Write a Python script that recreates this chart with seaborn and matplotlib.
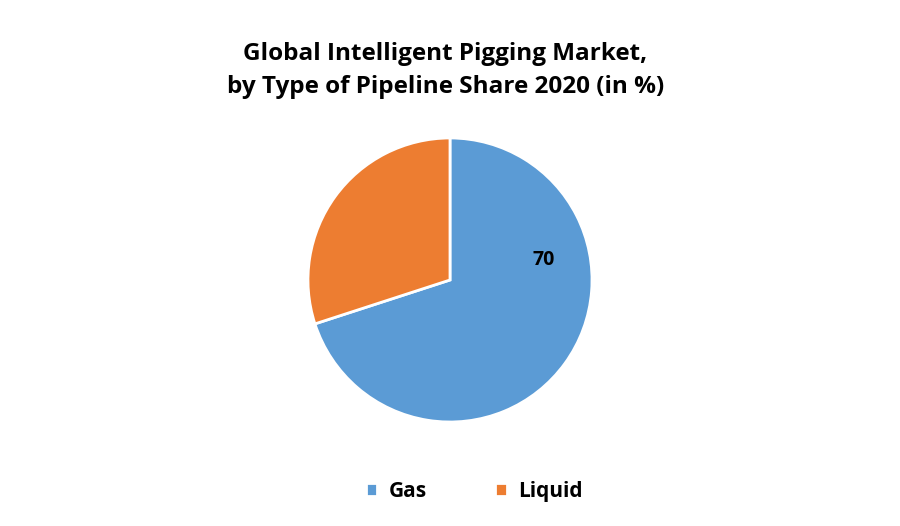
import matplotlib
matplotlib.use('Agg')
import matplotlib.pyplot as plt
import seaborn as sns

# data
categories = ['Gas', 'Liquid']
shares = [70, 30]
colors = ['#5B9BD5', '#ED7D31']
shown_labels = ['70', '']

sns.set_theme(style='white')
plt.rcParams['font.family'] = ['Open Sans', 'DejaVu Sans']
plt.rcParams['text.color'] = 'black'

fig = plt.figure(figsize=(9, 5.26), dpi=100)
fig.patch.set_facecolor('white')

# pie axes, centered where the reference pie sits
ax = fig.add_axes([0.3422, 0.1977, 0.3156, 0.540])
wedges, _ = ax.pie(shares, colors=colors, startangle=90, counterclock=False,
                   wedgeprops=dict(edgecolor='white', linewidth=2))
ax.set_xlim(-1, 1)
ax.set_ylim(-1, 1)
ax.set_aspect('equal')

# value label (only gas is labelled in the reference)
ax.text(0.66, 0.14, shown_labels[0], ha='center', va='center',
        fontsize=14, fontweight='bold', color='black')

fig.text(0.495, 0.866, 'Global Intelligent Pigging Market,\nby Type of Pipeline Share 2020 (in %)',
         ha='center', va='center', fontsize=17.5, fontweight='bold', linespacing=1.55,
         color='black')

fig.legend(wedges, categories, loc='center', bbox_to_anchor=(0.527, 0.066), ncol=2,
           frameon=False, handlelength=0.55, handleheight=0.55,
           columnspacing=3.3, handletextpad=0.55,
           prop=dict(weight='bold', size=15))

fig.savefig('out.png', dpi=100)
